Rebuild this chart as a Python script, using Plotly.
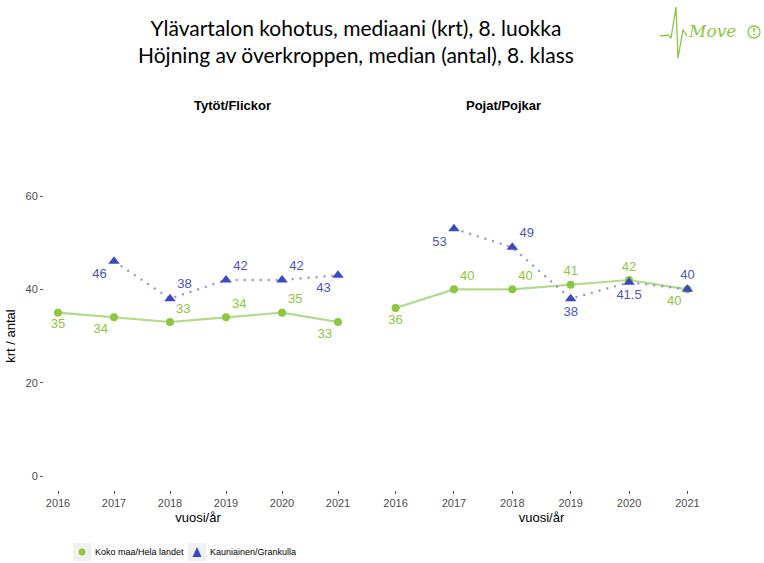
import plotly.graph_objects as go

# Years on the x axis
years = [2016, 2017, 2018, 2019, 2020, 2021]

# Girls (Tytöt/Flickor)
girls_national = [35, 34, 33, 34, 35, 33]
girls_local_years = [2017, 2018, 2019, 2020, 2021]
girls_local = [46, 38, 42, 42, 43]

# Boys (Pojat/Pojkar)
boys_national = [36, 40, 40, 41, 42, 40]
boys_local_years = [2017, 2018, 2019, 2020, 2021]
boys_local = [53, 49, 38, 41.5, 40]

y_ticks = [0, 20, 40, 60]

series_names = ["Koko maa/Hela landet", "Kauniainen/Grankulla"]

# label placement per point
girls_national_pos = ["bottom center", "bottom left", "top right", "top right", "top right", "bottom left"]
girls_local_pos = ["bottom left", "top right", "top right", "top right", "bottom left"]
boys_national_pos = ["bottom center", "top right", "top right", "top center", "top center", "bottom left"]
boys_local_pos = ["bottom left", "top right", "bottom center", "bottom center", "top center"]

GREEN = "#8dc63f"
GREEN_LINE = "#b3d98a"
BLUE = "#3d48c0"
BLUE_LINE = "#8c92dc"
BLUE_TEXT = "#4a55c4"

FONT = "Liberation Sans Narrow, Liberation Sans, Arial, sans-serif"
LABEL_FONT = "Liberation Sans, Arial, sans-serif"

fig = go.Figure()


def fmt(v):
    return f"{v:g}"


def add_panel(xaxis, yaxis, nat, nat_pos, loc_years, loc, loc_pos):
    fig.add_trace(go.Scatter(
        x=years, y=nat, xaxis=xaxis, yaxis=yaxis,
        mode="lines+markers+text",
        line=dict(color=GREEN_LINE, width=2.2),
        marker=dict(color=GREEN, size=8, symbol="circle"),
        text=[fmt(v) for v in nat], textposition=nat_pos,
        textfont=dict(color=GREEN, size=13, family=LABEL_FONT),
        name=series_names[0], showlegend=False, cliponaxis=False,
    ))
    fig.add_trace(go.Scatter(
        x=loc_years, y=loc, xaxis=xaxis, yaxis=yaxis,
        mode="lines+markers+text",
        line=dict(color=BLUE_LINE, width=2.2, dash="2px,6px"),
        marker=dict(color=BLUE, size=10, symbol="triangle-up"),
        text=[fmt(v) for v in loc], textposition=loc_pos,
        textfont=dict(color=BLUE_TEXT, size=13, family=LABEL_FONT),
        name=series_names[1], showlegend=False, cliponaxis=False,
    ))


add_panel("x", "y", girls_national, girls_national_pos, girls_local_years, girls_local, girls_local_pos)
add_panel("x2", "y2", boys_national, boys_national_pos, boys_local_years, boys_local, boys_local_pos)

W, H = 764, 563
y_dom = [1 - 490 / H, 1 - 182 / H]


def px(x):
    return x / W


def py(y):
    return 1 - y / H


xaxis_common = dict(
    range=[2015.75, 2021.25], tickvals=years, ticktext=[str(y) for y in years],
    showgrid=False, zeroline=False, showline=False,
    ticks="outside", ticklen=3, tickcolor="#555555",
    tickfont=dict(family=FONT, size=11, color="#4d4d4d"),
    title=dict(text="vuosi/år", font=dict(family=FONT, size=13, color="#000000"), standoff=4),
)
yaxis_common = dict(
    range=[-3, 63], tickvals=y_ticks, showgrid=False, zeroline=False, showline=False,
    tickcolor="#555555", tickfont=dict(family=FONT, size=11, color="#4d4d4d"),
    domain=y_dom,
)

fig.update_layout(
    width=W, height=H,
    margin=dict(l=0, r=0, t=0, b=0),
    paper_bgcolor="white", plot_bgcolor="white",
    xaxis=dict(domain=[px(44), px(352)], anchor="y", **xaxis_common),
    xaxis2=dict(domain=[px(381), px(702)], anchor="y2", **xaxis_common),
    yaxis=dict(anchor="x", ticks="outside", ticklen=3,
               title=dict(text="krt / antal", font=dict(family=FONT, size=13, color="#000000"), standoff=6),
               **yaxis_common),
    yaxis2=dict(anchor="x2", ticks="", showticklabels=False, **yaxis_common),
    showlegend=False,
    font=dict(family=FONT),
)

# Titles
fig.add_annotation(
    text="Ylävartalon kohotus, mediaani (krt), 8. luokka<br>Höjning av överkroppen, median (antal), 8. klass",
    x=px(356), y=py(41), xref="paper", yref="paper", showarrow=False,
    font=dict(family="Lato, DejaVu Sans, sans-serif", size=21, color="#000000"),
    align="center", xanchor="center", yanchor="middle",
)
fig.add_annotation(text="<b>Tytöt/Flickor</b>", x=px(192), y=py(96), xref="paper", yref="paper",
                   showarrow=False, font=dict(family=FONT, size=13, color="#000000"))
fig.add_annotation(text="<b>Pojat/Pojkar</b>", x=px(543), y=py(96), xref="paper", yref="paper",
                   showarrow=False, font=dict(family=FONT, size=13, color="#000000"))

# Legend keys: grey key boxes, symbols and labels
key_boxes = [(73, 91), (188, 206)]
for x0, x1 in key_boxes:
    fig.add_shape(type="rect", xref="paper", yref="paper",
                  x0=px(x0), x1=px(x1), y0=py(561), y1=py(543),
                  fillcolor="#f0f0f0", line=dict(width=0), layer="below")
fig.add_shape(type="circle", xref="paper", yref="paper",
              x0=px(78.5), x1=px(85.5), y0=py(555.5), y1=py(548.5),
              fillcolor=GREEN, line=dict(width=0))
fig.add_shape(type="path", xref="paper", yref="paper",
              path=f"M {px(192.5)},{py(557)} L {px(201.5)},{py(557)} L {px(197)},{py(547)} Z",
              fillcolor=BLUE, line=dict(width=0))
fig.add_annotation(text=series_names[0], x=px(93), y=py(552), xref="paper", yref="paper",
                   xanchor="left", yanchor="middle", showarrow=False,
                   font=dict(family=FONT, size=9, color="#000000"))
fig.add_annotation(text=series_names[1], x=px(208), y=py(552), xref="paper", yref="paper",
                   xanchor="left", yanchor="middle", showarrow=False,
                   font=dict(family=FONT, size=9, color="#000000"))

# Logo: heartbeat stroke and wordmark
fig.add_shape(type="path", xref="paper", yref="paper",
              path=f"M {px(660)},{py(36)} L {px(668)},{py(35)} L {px(671)},{py(38)} L {px(676)},{py(7)} "
                   f"L {px(678)},{py(58)} L {px(683)},{py(30)} L {px(687)},{py(36)}",
              line=dict(color=GREEN, width=1.3))
fig.add_annotation(text="<i>Move</i>", x=px(686), y=py(31), xref="paper", yref="paper",
                   xanchor="left", yanchor="middle", showarrow=False,
                   font=dict(family="DejaVu Serif, serif", size=17, color=GREEN))
fig.add_shape(type="circle", xref="paper", yref="paper",
              x0=px(748), x1=px(760), y0=py(38), y1=py(26),
              line=dict(color=GREEN, width=1.3))
fig.add_annotation(text="<b>!</b>", x=px(754), y=py(32), xref="paper", yref="paper",
                   xanchor="center", yanchor="middle", showarrow=False,
                   font=dict(family="DejaVu Sans, sans-serif", size=9, color=GREEN))

fig.write_html("out.html")
